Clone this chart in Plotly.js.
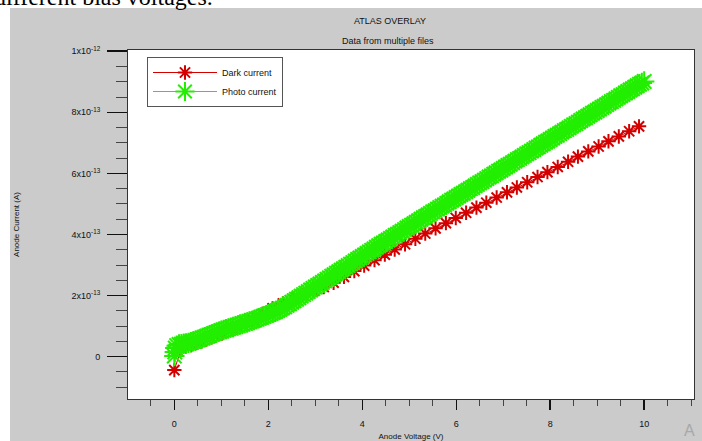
<!DOCTYPE html>
<html>
<head>
<meta charset="utf-8">
<script src="https://cdn.plot.ly/plotly-3.0.1.min.js"></script>
<style>html,body{margin:0;padding:0;background:#fff;}#chart{width:702px;height:441px;}</style>
</head>
<body>
<div id="chart"></div>
<script>
// Dark current (red), anode voltage in V, current in A
const darkVoltage = [0, 0.15, 0.36, 0.58, 0.79, 1.01, 1.23, 1.44, 1.66, 1.88, 2.09, 2.31, 2.53, 2.74, 2.96, 3.18, 3.39, 3.61, 3.83, 4.04, 4.26, 4.48, 4.69, 4.91, 5.13, 5.34, 5.56, 5.78, 5.99, 6.21, 6.43, 6.64, 6.86, 7.08, 7.29, 7.51, 7.73, 7.94, 8.16, 8.38, 8.59, 8.81, 9.03, 9.24, 9.46, 9.68, 9.89];
const darkCurrent = [-0.44e-13, 0.28e-13, 0.38e-13, 0.50e-13, 0.63e-13, 0.76e-13, 0.90e-13, 1.04e-13, 1.19e-13, 1.40e-13, 1.58e-13, 1.74e-13, 1.88e-13, 2.02e-13, 2.15e-13, 2.28e-13, 2.42e-13, 2.61e-13, 2.80e-13, 2.98e-13, 3.16e-13, 3.34e-13, 3.51e-13, 3.68e-13, 3.86e-13, 4.03e-13, 4.20e-13, 4.37e-13, 4.54e-13, 4.71e-13, 4.88e-13, 5.04e-13, 5.21e-13, 5.38e-13, 5.54e-13, 5.71e-13, 5.88e-13, 6.04e-13, 6.21e-13, 6.38e-13, 6.55e-13, 6.72e-13, 6.88e-13, 7.05e-13, 7.21e-13, 7.38e-13, 7.54e-13];

// Photo current (green), dense sweep
const photoVoltage = [0, 0.01, 0.02, 0.05,
  0.10, 0.15, 0.20, 0.25, 0.30, 0.35, 0.40, 0.45, 0.50, 0.55, 0.60, 0.65, 0.70, 0.75, 0.80, 0.85, 0.90, 0.95, 1.00,
  1.05, 1.10, 1.15, 1.20, 1.25, 1.30, 1.35, 1.40, 1.45, 1.50, 1.55, 1.60, 1.65, 1.70, 1.75, 1.80, 1.85, 1.90, 1.95, 2.00,
  2.05, 2.10, 2.15, 2.20, 2.25, 2.30, 2.35, 2.40, 2.45, 2.50, 2.55, 2.60, 2.65, 2.70, 2.75, 2.80, 2.85, 2.90, 2.95, 3.00,
  3.05, 3.10, 3.15, 3.20, 3.25, 3.30, 3.35, 3.40, 3.45, 3.50, 3.55, 3.60, 3.65, 3.70, 3.75, 3.80, 3.85, 3.90, 3.95, 4.00,
  4.05, 4.10, 4.15, 4.20, 4.25, 4.30, 4.35, 4.40, 4.45, 4.50, 4.55, 4.60, 4.65, 4.70, 4.75, 4.80, 4.85, 4.90, 4.95, 5.00,
  5.05, 5.10, 5.15, 5.20, 5.25, 5.30, 5.35, 5.40, 5.45, 5.50, 5.55, 5.60, 5.65, 5.70, 5.75, 5.80, 5.85, 5.90, 5.95, 6.00,
  6.05, 6.10, 6.15, 6.20, 6.25, 6.30, 6.35, 6.40, 6.45, 6.50, 6.55, 6.60, 6.65, 6.70, 6.75, 6.80, 6.85, 6.90, 6.95, 7.00,
  7.05, 7.10, 7.15, 7.20, 7.25, 7.30, 7.35, 7.40, 7.45, 7.50, 7.55, 7.60, 7.65, 7.70, 7.75, 7.80, 7.85, 7.90, 7.95, 8.00,
  8.05, 8.10, 8.15, 8.20, 8.25, 8.30, 8.35, 8.40, 8.45, 8.50, 8.55, 8.60, 8.65, 8.70, 8.75, 8.80, 8.85, 8.90, 8.95, 9.00,
  9.05, 9.10, 9.15, 9.20, 9.25, 9.30, 9.35, 9.40, 9.45, 9.50, 9.55, 9.60, 9.65, 9.70, 9.75, 9.80, 9.85, 9.90, 9.95, 10.00];
const photoCurrent = [0.02e-13, 0.15e-13, 0.28e-13, 0.36e-13,
  0.40e-13, 0.41e-13, 0.42e-13, 0.43e-13, 0.45e-13, 0.47e-13, 0.50e-13, 0.52e-13, 0.55e-13, 0.58e-13, 0.61e-13, 0.64e-13, 0.67e-13, 0.70e-13, 0.73e-13, 0.76e-13, 0.79e-13, 0.82e-13, 0.85e-13,
  0.87e-13, 0.90e-13, 0.92e-13, 0.95e-13, 0.97e-13, 1.00e-13, 1.02e-13, 1.05e-13, 1.07e-13, 1.10e-13, 1.12e-13, 1.15e-13, 1.17e-13, 1.20e-13, 1.23e-13, 1.26e-13, 1.29e-13, 1.32e-13, 1.35e-13, 1.38e-13,
  1.41e-13, 1.44e-13, 1.47e-13, 1.51e-13, 1.55e-13, 1.59e-13, 1.63e-13, 1.68e-13, 1.73e-13, 1.78e-13, 1.83e-13, 1.88e-13, 1.93e-13, 1.98e-13, 2.03e-13, 2.08e-13, 2.13e-13, 2.18e-13, 2.23e-13, 2.28e-13,
  2.33e-13, 2.38e-13, 2.43e-13, 2.48e-13, 2.53e-13, 2.58e-13, 2.63e-13, 2.68e-13, 2.73e-13, 2.78e-13, 2.83e-13, 2.88e-13, 2.93e-13, 2.98e-13, 3.03e-13, 3.08e-13, 3.13e-13, 3.18e-13, 3.23e-13, 3.28e-13,
  3.33e-13, 3.38e-13, 3.43e-13, 3.48e-13, 3.53e-13, 3.58e-13, 3.63e-13, 3.68e-13, 3.72e-13, 3.77e-13, 3.82e-13, 3.87e-13, 3.92e-13, 3.97e-13, 4.01e-13, 4.06e-13, 4.11e-13, 4.16e-13, 4.21e-13, 4.26e-13,
  4.30e-13, 4.35e-13, 4.40e-13, 4.45e-13, 4.50e-13, 4.55e-13, 4.59e-13, 4.64e-13, 4.69e-13, 4.74e-13, 4.78e-13, 4.83e-13, 4.88e-13, 4.93e-13, 4.97e-13, 5.02e-13, 5.07e-13, 5.12e-13, 5.16e-13, 5.21e-13,
  5.26e-13, 5.31e-13, 5.35e-13, 5.40e-13, 5.45e-13, 5.50e-13, 5.54e-13, 5.59e-13, 5.64e-13, 5.69e-13, 5.73e-13, 5.78e-13, 5.83e-13, 5.88e-13, 5.92e-13, 5.97e-13, 6.02e-13, 6.07e-13, 6.11e-13, 6.16e-13,
  6.21e-13, 6.26e-13, 6.30e-13, 6.35e-13, 6.40e-13, 6.45e-13, 6.49e-13, 6.54e-13, 6.59e-13, 6.64e-13, 6.68e-13, 6.73e-13, 6.78e-13, 6.83e-13, 6.87e-13, 6.92e-13, 6.97e-13, 7.02e-13, 7.06e-13, 7.11e-13,
  7.16e-13, 7.21e-13, 7.25e-13, 7.30e-13, 7.35e-13, 7.40e-13, 7.44e-13, 7.49e-13, 7.54e-13, 7.59e-13, 7.63e-13, 7.68e-13, 7.73e-13, 7.78e-13, 7.82e-13, 7.87e-13, 7.92e-13, 7.97e-13, 8.01e-13, 8.06e-13,
  8.11e-13, 8.16e-13, 8.20e-13, 8.25e-13, 8.30e-13, 8.35e-13, 8.39e-13, 8.44e-13, 8.49e-13, 8.54e-13, 8.58e-13, 8.63e-13, 8.68e-13, 8.73e-13, 8.77e-13, 8.82e-13, 8.87e-13, 8.92e-13, 8.96e-13, 9.01e-13];

const yTickVals = [0, 2e-13, 4e-13, 6e-13, 8e-13, 1e-12];
const yTickText = ['0', '2x10<sup>-13</sup>', '4x10<sup>-13</sup>', '6x10<sup>-13</sup>', '8x10<sup>-13</sup>', '1x10<sup>-12</sup>'];
const xTickVals = [0, 2, 4, 6, 8, 10];
const xTickText = ['0', '2', '4', '6', '8', '10'];

const FONT = 'Liberation Sans, Arial, sans-serif';

const traces = [
  {
    x: darkVoltage, y: darkCurrent, name: 'Dark current', type: 'scatter', mode: 'lines+markers',
    line: {color: '#d40000', width: 1},
    marker: {symbol: 'asterisk-open', size: 12, color: '#d40000', line: {color: '#d40000', width: 2}}
  },
  {
    x: photoVoltage, y: photoCurrent, name: 'Photo current', type: 'scatter', mode: 'lines+markers',
    line: {color: '#22ee00', width: 1},
    marker: {symbol: 'asterisk-open', size: 17, color: '#22ee00', line: {color: '#22ee00', width: 2}}
  }
];

const px = p => (p - 128) / 566;
const py = q => (399 - q) / 349;

const layout = {
  width: 702, height: 441,
  margin: {l: 128, r: 8, t: 50, b: 42, pad: 0},
  paper_bgcolor: '#cbcbcb',
  plot_bgcolor: '#ffffff',
  font: {family: FONT, size: 9, color: '#111'},
  showlegend: true,
  title: {text: 'ATLAS OVERLAY', x: 390/702, xanchor: 'center', y: 1 - 21/441, yanchor: 'middle', font: {family: FONT, size: 9, color: '#111'}},
  xaxis: {
    range: [-0.986, 11.06], tickmode: 'array', tickvals: xTickVals, ticktext: xTickText,
    ticks: 'outside', ticklen: 10, tickwidth: 1.5, tickcolor: '#111',
    ticklabelstandoff: 6,
    showgrid: false, zeroline: false, showline: true, linecolor: '#333', linewidth: 1, mirror: true,
    minor: {dtick: 0.5, tick0: 0, ticks: 'outside', ticklen: 6, tickwidth: 1, tickcolor: '#444', showgrid: false},
    tickfont: {family: FONT, size: 9, color: '#111'},
    title: {text: 'Anode Voltage (V)', standoff: 13, font: {family: FONT, size: 8, color: '#111'}}
  },
  yaxis: {
    range: [-1.387e-13, 1.004e-12], tickmode: 'array', tickvals: yTickVals, ticktext: yTickText,
    ticks: 'outside', ticklen: 20, tickwidth: 1.5, tickcolor: '#111',
    ticklabelstandoff: 5,
    showgrid: false, zeroline: false, showline: true, linecolor: '#333', linewidth: 1, mirror: true,
    minor: {dtick: 5e-14, tick0: 0, ticks: 'outside', ticklen: 11, tickwidth: 1, tickcolor: '#444', showgrid: false},
    tickfont: {family: FONT, size: 9, color: '#111'},
    title: {text: 'Anode Current (A)', standoff: 50, font: {family: FONT, size: 8, color: '#111'}}
  },
  legend: {
    x: px(147), y: py(57), xanchor: 'left', yanchor: 'top',
    bgcolor: '#ffffff', bordercolor: '#555', borderwidth: 1,
    font: {family: FONT, size: 9, color: '#111'}, itemwidth: 64, tracegroupgap: 0
  },
  shapes: [
    {type: 'rect', xref: 'paper', yref: 'paper', x0: px(-20), x1: px(720), y0: py(8), y1: py(-20), fillcolor: '#ffffff', line: {width: 0}},
    {type: 'rect', xref: 'paper', yref: 'paper', x0: px(-20), x1: px(10), y0: py(460), y1: py(-20), fillcolor: '#ffffff', line: {width: 0}}
  ],
  annotations: [
    {text: 'Data from multiple files', xref: 'paper', yref: 'paper', x: px(388), y: py(41), xanchor: 'center', yanchor: 'middle', showarrow: false, font: {family: FONT, size: 9, color: '#111'}},
    {text: 'different bias voltages.', xref: 'paper', yref: 'paper', x: px(-8), y: py(12), xanchor: 'left', yanchor: 'bottom', showarrow: false, font: {family: 'Liberation Serif, Times New Roman, serif', size: 24, color: '#000'}},
    {text: 'A', xref: 'paper', yref: 'paper', x: px(689), y: py(430), xanchor: 'center', yanchor: 'middle', showarrow: false, font: {family: FONT, size: 16, color: '#a8a8a8'}}
  ]
};

Plotly.newPlot('chart', traces, layout, {displayModeBar: false, staticPlot: true});
</script>
</body>
</html>
